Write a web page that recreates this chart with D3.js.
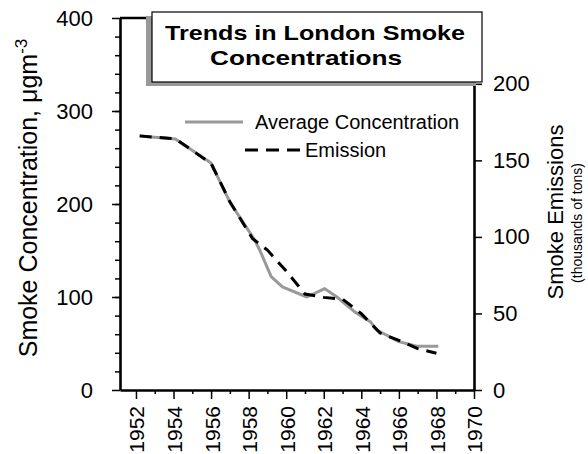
<!DOCTYPE html>
<html>
<head>
<meta charset="utf-8">
<script src="https://cdn.jsdelivr.net/npm/d3@7"></script>
<style>
  body { margin: 0; background: #fff; }
  svg { display: block; font-family: "Liberation Sans", Arial, Helvetica, sans-serif; }
</style>
</head>
<body>
<div id="chart"></div>
<script>
// data
var concYears = [1952.2, 1954.1, 1956, 1957, 1958.33, 1958.6, 1959.2, 1959.8, 1961.1, 1962.05, 1962.7, 1963.65, 1964.5, 1964.8, 1965.15, 1966, 1966.95, 1968.1];
var concentration = [273, 270, 244, 202, 161, 150, 122, 111, 100, 109, 100, 84, 73, 65, 61, 52, 47, 47];
var emisYears = [1952.2, 1954.1, 1956, 1957, 1958.2, 1959, 1960, 1961, 1962, 1963, 1964, 1965, 1966, 1967, 1968];
var emission = [166, 164, 148, 123, 99, 91.4, 77.7, 62.7, 60.5, 59.4, 49.9, 37.2, 32.4, 27, 24];
var yearTicks = [1952, 1954, 1956, 1958, 1960, 1962, 1964, 1966, 1968, 1970];
var concTicks = [0, 100, 200, 300, 400];
var emisTicks = [0, 50, 100, 150, 200];

var width = 588, height = 454;
var plot = {left: 120, right: 474, top: 18, bottom: 390};

var svg = d3.select("#chart").append("svg")
    .attr("width", width)
    .attr("height", height);

// scales
var x = d3.scaleLinear().domain([1951.15, 1970]).range([plot.left, plot.right]);
var yL = d3.scaleLinear().domain([0, 400]).range([plot.bottom, plot.top]);
var yR = d3.scaleLinear().domain([0, 243]).range([plot.bottom, plot.top]);

var concData = concYears.map(function(d, i) { return {year: d, value: concentration[i]}; });
var emisData = emisYears.map(function(d, i) { return {year: d, value: emission[i]}; });

// lines
var lineL = d3.line().x(function(d) { return x(d.year); }).y(function(d) { return yL(d.value); });
var lineR = d3.line().x(function(d) { return x(d.year); }).y(function(d) { return yR(d.value); });

svg.append("path")
    .datum(concData)
    .attr("d", lineL)
    .attr("fill", "none")
    .attr("stroke", "#999")
    .attr("stroke-width", 3)
    .attr("stroke-linejoin", "round");

svg.append("path")
    .datum(emisData)
    .attr("d", lineR)
    .attr("fill", "none")
    .attr("stroke", "#000")
    .attr("stroke-width", 3)
    .attr("stroke-dasharray", "12,8");

// minor ticks first
svg.append("g")
    .attr("transform", "translate(0," + plot.bottom + ")")
    .call(d3.axisBottom(x).tickValues(d3.range(1953, 1970, 2)).tickSize(4).tickFormat(""))
    .call(function(g) { g.select(".domain").remove(); });
svg.append("g")
    .attr("transform", "translate(" + plot.left + ",0)")
    .call(d3.axisLeft(yL).tickValues(d3.range(20, 400, 20)).tickSize(5).tickFormat(""))
    .call(function(g) { g.select(".domain").remove(); });

// x axis
var xAxis = svg.append("g")
    .attr("transform", "translate(0," + plot.bottom + ")")
    .call(d3.axisBottom(x).tickValues(yearTicks).tickSize(9).tickSizeOuter(0).tickFormat(d3.format("d")));

// left axis
var leftAxis = svg.append("g")
    .attr("transform", "translate(" + plot.left + ",0)")
    .call(d3.axisLeft(yL).tickValues(concTicks).tickSize(8).tickSizeOuter(0).tickPadding(19));

// right axis
var rightAxis = svg.append("g")
    .attr("transform", "translate(" + plot.right + ",0)")
    .call(d3.axisRight(yR).tickValues(emisTicks).tickSize(8).tickSizeOuter(0).tickPadding(11));

svg.selectAll(".tick text").attr("font-size", 22).attr("font-family", "Liberation Sans, Arial, sans-serif").attr("fill", "#000");
svg.selectAll(".tick line").attr("stroke-width", 1.5);
svg.selectAll(".domain").attr("stroke-width", 2.6);

// year labels run upwards
xAxis.selectAll("text")
    .attr("font-size", 21)
    .attr("transform", "rotate(-90)")
    .attr("text-anchor", "end")
    .attr("x", -16)
    .attr("y", 0)
    .attr("dy", "0.38em");

// top frame line
svg.append("line")
    .attr("x1", plot.left).attr("x2", plot.right)
    .attr("y1", plot.top).attr("y2", plot.top)
    .attr("stroke", "#000")
    .attr("stroke-width", 2.6);

// title box with shadow
svg.append("rect")
    .attr("x", 146).attr("y", 16).attr("width", 330).attr("height", 70)
    .attr("fill", "#999");
svg.append("rect")
    .attr("x", 152).attr("y", 12).attr("width", 330).attr("height", 70)
    .attr("fill", "#fff")
    .attr("stroke", "#000")
    .attr("stroke-width", 1.2);
svg.append("text")
    .attr("x", 315).attr("y", 40)
    .attr("text-anchor", "middle")
    .attr("font-size", 21).attr("font-weight", "bold")
    .attr("textLength", 300).attr("lengthAdjust", "spacingAndGlyphs")
    .text("Trends in London Smoke");
svg.append("text")
    .attr("x", 306).attr("y", 65)
    .attr("text-anchor", "middle")
    .attr("font-size", 21).attr("font-weight", "bold")
    .attr("textLength", 192).attr("lengthAdjust", "spacingAndGlyphs")
    .text("Concentrations");

// legend
svg.append("line")
    .attr("x1", 185).attr("x2", 243).attr("y1", 122).attr("y2", 122)
    .attr("stroke", "#999").attr("stroke-width", 3);
svg.append("text")
    .attr("x", 255).attr("y", 129)
    .attr("font-size", 20)
    .text("Average Concentration");
svg.append("line")
    .attr("x1", 245).attr("x2", 300).attr("y1", 150).attr("y2", 150)
    .attr("stroke", "#000").attr("stroke-width", 3)
    .attr("stroke-dasharray", "13,8");
svg.append("text")
    .attr("x", 305).attr("y", 157)
    .attr("font-size", 20)
    .text("Emission");

// axis titles
var lt = svg.append("text")
    .attr("transform", "translate(37,198) rotate(-90)")
    .attr("text-anchor", "middle")
    .attr("font-size", 25);
lt.append("tspan").text("Smoke Concentration, μgm");
lt.append("tspan").attr("dy", "-0.6em").attr("font-size", 17).text("-3");

svg.append("text")
    .attr("transform", "translate(563,212) rotate(-90)")
    .attr("text-anchor", "middle")
    .attr("font-size", 22)
    .text("Smoke Emissions");
svg.append("text")
    .attr("transform", "translate(582,223) rotate(-90)")
    .attr("text-anchor", "middle")
    .attr("font-size", 14)
    .text("(thousands of tons)");
</script>
</body>
</html>
